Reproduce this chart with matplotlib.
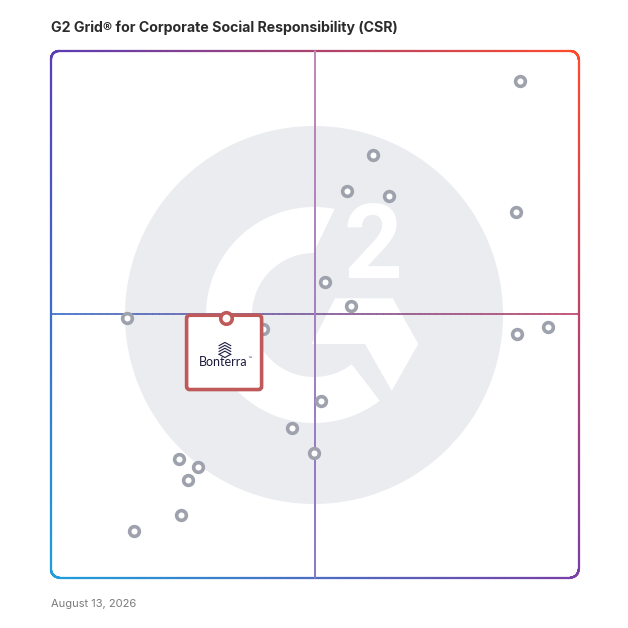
import numpy as np
import matplotlib
matplotlib.use("Agg")
import matplotlib.pyplot as plt
import matplotlib.transforms as mtransforms
from matplotlib.collections import LineCollection
from matplotlib.patches import Circle, Polygon, FancyBboxPatch
from matplotlib.colors import to_rgb

# grid positions, 0-100 on both axes (market presence / satisfaction)
market_presence = [88.9, 61.1, 56.2, 64.0, 88.2, 51.9, 56.9, 14.4, 88.3, 94.3,
                   40.2, 51.2, 45.7, 49.9, 24.3, 27.9, 25.9, 24.6, 15.7]
satisfaction = [94.3, 80.3, 73.5, 72.4, 69.5, 56.1, 51.6, 49.3, 46.2, 47.6,
                47.2, 33.6, 28.4, 23.6, 22.6, 21.0, 18.6, 11.9, 8.9]
bonterra_xy = (33.1, 49.3)

title = "G2 Grid\u00ae for Corporate Social Responsibility (CSR)"
date_label = "August 13, 2026"

TL, TR = np.array(to_rgb("#5a3db5")), np.array(to_rgb("#ff4a2a"))
BL, BR = np.array(to_rgb("#1e9fdc")), np.array(to_rgb("#7a3ea8"))


def grad(u, v):
	top = TL * (1 - u) + TR * u
	bot = BL * (1 - u) + BR * u
	return np.clip(bot * (1 - v) + top * v, 0, 1)


def seg_collection(xs, ys, colors, lw):
	pts = np.column_stack([xs, ys]).reshape(-1, 1, 2)
	segs = np.concatenate([pts[:-1], pts[1:]], axis=1)
	return LineCollection(segs, colors=colors, linewidths=lw, capstyle="round", clip_on=False)


fig = plt.figure(figsize=(6.28, 6.28), dpi=100)

# background layer in pixel coords (G2 watermark)
bg = fig.add_axes([0, 0, 1, 1])
bg.set_xlim(0, 628)
bg.set_ylim(628, 0)
bg.axis("off")

cx, cy = 314, 315
bg.add_patch(Circle((cx, cy), 189, color="#eaecf0", lw=0))
ro, ri = 108, 62
th_o = np.radians(np.linspace(79, 307.5, 200))
th_i = np.radians(np.linspace(307.5, 90.6, 200))
ring = np.concatenate([
	np.column_stack([cx + ro * np.cos(th_o), cy - ro * np.sin(th_o)]),
	np.column_stack([cx + ri * np.cos(th_i), cy - ri * np.sin(th_i)]),
])
bg.add_patch(Polygon(ring, closed=True, color="white", lw=0))
chev = [(335, 298.3), (392.7, 298.3), (418.3, 344), (391.7, 390.7), (365, 344), (311.7, 344)]
bg.add_patch(Polygon(chev, closed=True, color="white", lw=0))
bg.text(372.5, 250, "2", color="white", fontsize=74, fontweight="bold",
	family="Roboto", ha="center", va="center")

# data layer
ax = fig.add_axes([51 / 628, 50.5 / 628, 527.5 / 628, 526.5 / 628])
ax.set_xlim(0, 100)
ax.set_ylim(0, 100)
ax.patch.set_alpha(0)
ax.axis("off")

# gradient frame
r = 1.52
t = np.linspace(0, np.pi / 2, 30)
path = []
path += list(zip(100 - r + r * np.cos(t), 100 - r + r * np.sin(t)))
path += list(zip(r + r * np.cos(t + np.pi / 2), 100 - r + r * np.sin(t + np.pi / 2)))
path += list(zip(r + r * np.cos(t + np.pi), r + r * np.sin(t + np.pi)))
path += list(zip(100 - r + r * np.cos(t + 1.5 * np.pi), r + r * np.sin(t + 1.5 * np.pi)))
path.append(path[0])
path = np.array(path)
dense = []
for a, b in zip(path[:-1], path[1:]):
	n = max(2, int(np.hypot(*(b - a)) * 3))
	dense.append(np.linspace(a, b, n, endpoint=False))
dense.append(path[-1:])
dense = np.concatenate(dense)
mids = (dense[:-1] + dense[1:]) / 2
ax.add_collection(seg_collection(dense[:, 0], dense[:, 1],
	[grad(u / 100, v / 100) for u, v in mids], 1.6))

# quadrant lines
hx = np.linspace(0, 100, 300)
ax.add_collection(seg_collection(hx, np.full_like(hx, 50),
	[grad(u / 100, 0.5) for u in hx[:-1]], 1.1))
vy = np.linspace(0, 100, 300)
vtop, vbot = np.array(to_rgb("#c08ab6")), np.array(to_rgb("#8a78cc"))
ax.add_collection(seg_collection(np.full_like(vy, 50), vy,
	[vbot * (1 - v / 100) + vtop * v / 100 for v in vy[:-1]], 1.4))

# products
ax.plot(market_presence, satisfaction, "o", ms=7, mew=2.6, mfc="white",
	mec="#9da2ad", ls="none", zorder=3, clip_on=False)

# Bonterra callout, sized in pixels around its point
anchor = mtransforms.ScaledTranslation(bonterra_xy[0], bonterra_xy[1], ax.transData)
pix = mtransforms.Affine2D() + anchor
box = FancyBboxPatch((-39, -71.6), 75, 74.3, boxstyle="round,pad=0,rounding_size=3",
	fc="white", ec="#c05a5a", lw=2.6, transform=pix, zorder=4)
ax.add_patch(box)
for k in range(4):
	dy = -24.5 - k * 2.9
	ax.plot([-6.5, -0.7, 5.1], [dy - 3.2, dy, dy - 3.2], color="#1f1d45",
		lw=0.8, transform=pix, zorder=5)
ax.plot([-6.5, -0.7, 5.1], [-24.5 - 3.2 - 8.7, -24.5 - 6.4 - 8.7, -24.5 - 3.2 - 8.7],
	color="#1f1d45", lw=0.8, transform=pix, zorder=5)
ax.text(-2, -44, "Bonterra", transform=pix, ha="center", va="center",
	fontsize=9, family="Lato", color="#1b1a3c", zorder=5)
ax.text(21.8, -40.5, "\u2122", transform=pix, ha="left", va="center",
	fontsize=3.5, family="DejaVu Sans", color="#1b1a3c", zorder=5)
ax.plot(*bonterra_xy, "o", ms=8.3, mew=2.6, mfc="white", mec="#c05a5a",
	zorder=6, clip_on=False)

fig.text(51 / 628, 1 - 28 / 628, title, ha="left", va="center", fontsize=10.2,
	fontweight="bold", family="Inter", color="#2b2b2b")
fig.text(51 / 628, 1 - 604 / 628, date_label, ha="left", va="center", fontsize=8,
	family="Inter", color="#7a7a7a")

fig.savefig("out.png", dpi=100)
